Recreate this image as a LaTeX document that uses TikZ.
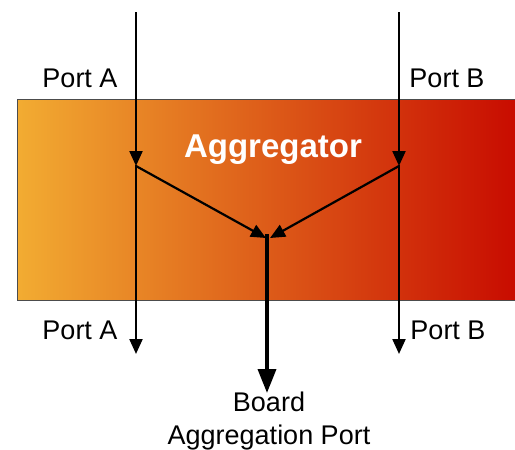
\documentclass[tikz,border=0pt]{standalone}
\usepackage{fontspec}
\setmainfont{Liberation Sans}
\usetikzlibrary{arrows.meta}
\definecolor{aggleft}{RGB}{242,172,50}
\definecolor{aggmid}{RGB}{226,112,32}
\definecolor{aggright}{RGB}{200,12,0}
\begin{document}
\begin{tikzpicture}[x=1pt, y=-1pt,
    lbl/.style={font=\fontsize{27}{33}\selectfont, inner sep=0pt},
    flow/.style={line width=2.2pt, -{Triangle[length=15pt,width=13pt]}}]
        \useasboundingbox (0,0) rectangle (515,450);

        % Aggregator box
        \shade[left color=aggleft, middle color=aggmid, right color=aggright]
            (17,99) rectangle (515,300);
        \draw[line width=1pt, black!70] (17,99) rectangle (516,300);
        \node[font=\fontsize{33}{33}\selectfont\bfseries, text=white] (agg) at (273,150) {Aggregator};

        % Port points
        \coordinate (aTop) at (136,12);
        \coordinate (aSplit) at (136,166);
        \coordinate (aBot) at (136,354);
        \coordinate (bTop) at (399,12);
        \coordinate (bSplit) at (399,166);
        \coordinate (bBot) at (399,354);
        \coordinate (mergeL) at (266,238);
        \coordinate (mergeR) at (270,238);
        \coordinate (merge) at (267,234);
        \coordinate (board) at (267,393);

        % Port A and Port B through the box
        \draw[flow] (aTop) -- (aSplit);
        \draw[flow] (aSplit) ++(0,-1) -- (aBot);
        \draw[flow] (bTop) -- (bSplit);
        \draw[flow] (bSplit) ++(0,-1) -- (bBot);

        % Copies to the aggregation port
        \draw[flow] (aSplit) -- (mergeL);
        \draw[flow] (bSplit) -- (mergeR);
        \draw[line width=3.6pt, -{Triangle[length=24pt,width=18pt]}] (merge) -- (board);

        % Labels
        \node[lbl] (aInLbl) at (80,78) {Port A};
        \node[lbl] (bInLbl) at (447,78) {Port B};
        \node[lbl] (aOutLbl) at (80,330) {Port A};
        \node[lbl] (bOutLbl) at (448,330) {Port B};
        \node[lbl, align=center] (boardLbl) at (269,421) {Board\\Aggregation Port};
\end{tikzpicture}
\end{document}
